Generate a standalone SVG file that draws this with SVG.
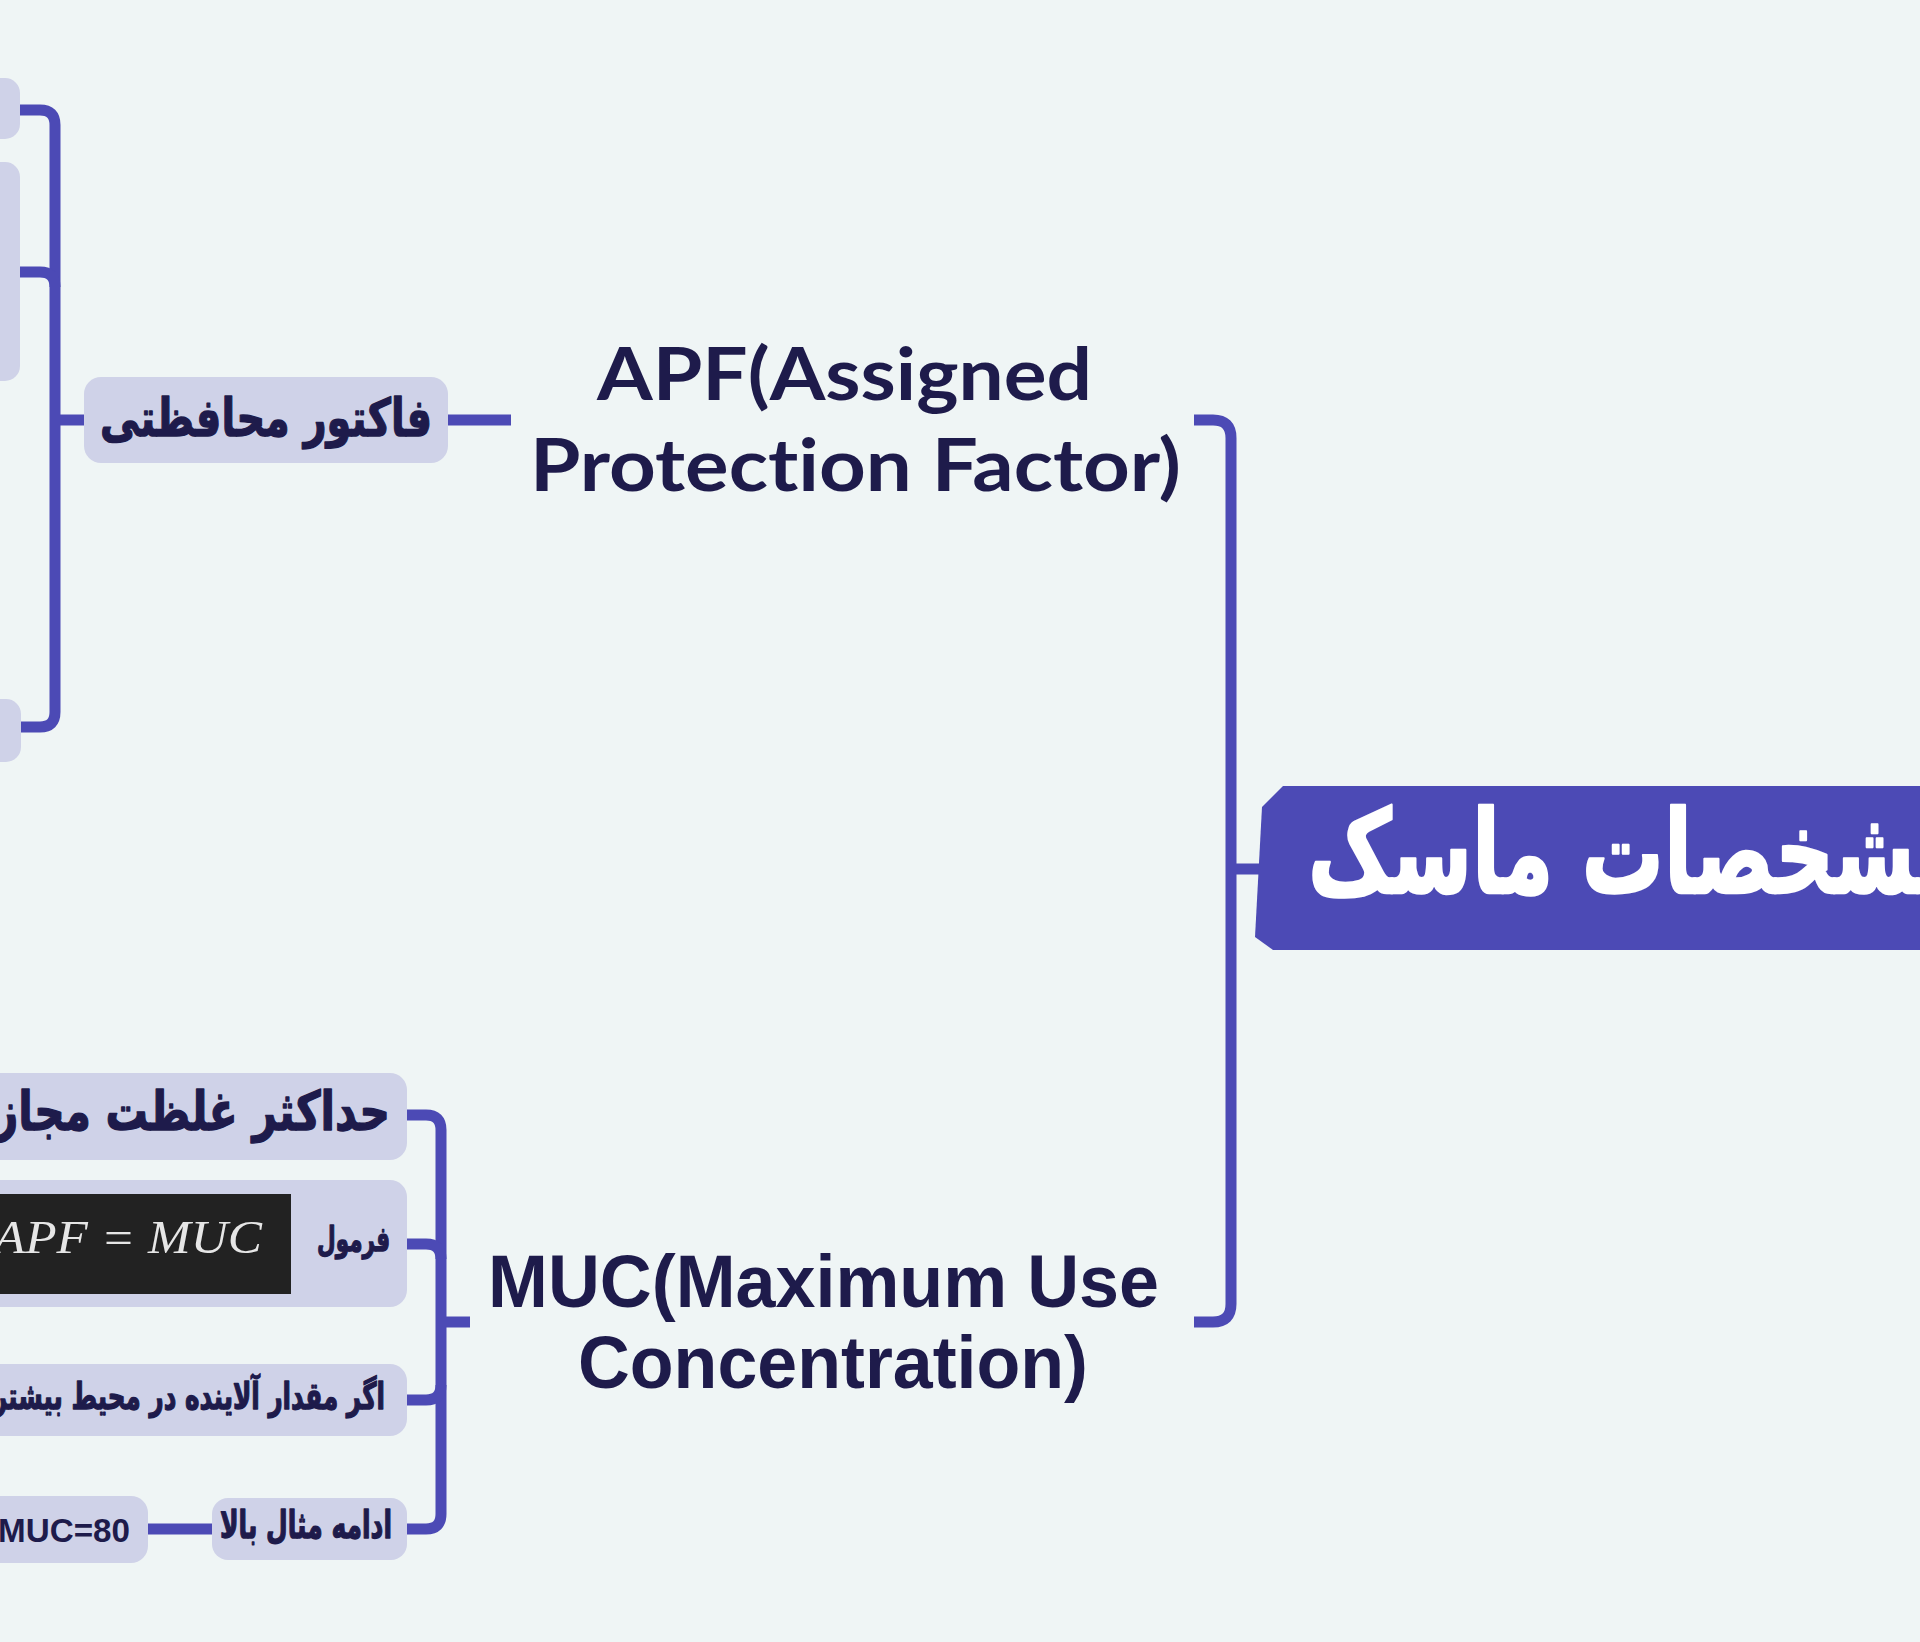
<svg xmlns="http://www.w3.org/2000/svg" width="1920" height="1642" viewBox="0 0 1920 1642">
<style>
.bg{fill:#EFF5F5}
.link{fill:none;stroke:#4C4AB5;stroke-width:11;stroke-linecap:butt}
.box{fill:#CFD2E8}
.fa{font-family:"DejaVu Sans",sans-serif;font-weight:bold;fill:#1E1B4B;stroke:#1E1B4B;stroke-width:1.4;stroke-linejoin:round}
.en{font-family:Lato,"Liberation Sans",sans-serif;font-weight:bold;fill:#1E1B4B;font-variant-ligatures:none}
.ar{font-family:"Liberation Sans",Arial,sans-serif;font-weight:bold;fill:#1E1B4B}
</style>
<rect class="bg" x="0" y="0" width="1920" height="1642"/>
<g id="connectors">
<path class="link" d="M1194,420 H1213 Q1231,420 1231,438 V1304 Q1231,1322 1213,1322 H1194"/>
<path class="link" d="M1231,869 H1264"/>
<path class="link" d="M448,420 H511"/>
<path class="link" d="M18,110 H40 Q55,110 55,125 V712 Q55,727 40,727 H18"/>
<path class="link" d="M18,272 H40 Q55,272 55,287"/>
<path class="link" d="M55,420 H86"/>
<path class="link" d="M405,1115 H426 Q441,1115 441,1130 V1514 Q441,1529 426,1529 H405"/>
<path class="link" d="M405,1244 H426 Q441,1244 441,1259"/>
<path class="link" d="M405,1400 H426 Q441,1400 441,1385"/>
<path class="link" d="M441,1322 H470"/>
<path class="link" d="M146,1529 H214"/>
</g>
<g id="root">
<polygon points="1283,786 1920,786 1920,950 1273,950 1255,937 1262,807" fill="#4C4AB5"/>
<text x="1308" y="893" font-size="116" textLength="660" lengthAdjust="spacingAndGlyphs" style="font-family:'DejaVu Sans',sans-serif;font-weight:bold;fill:#FFFFFF;stroke:#FFFFFF;stroke-width:2.5;stroke-linejoin:round">مشخصات ماسک</text>
</g>
<g id="apf">
<text class="en" x="597" y="400" font-size="72" textLength="495" lengthAdjust="spacingAndGlyphs">APF(Assigned</text>
<text class="en" x="530" y="491" font-size="72" textLength="651" lengthAdjust="spacingAndGlyphs">Protection Factor)</text>
</g>
<g id="muc">
<text class="ar" x="488" y="1307" font-size="75" textLength="671" lengthAdjust="spacingAndGlyphs">MUC(Maximum Use</text>
<text class="ar" x="578" y="1388" font-size="75" textLength="510" lengthAdjust="spacingAndGlyphs">Concentration)</text>
</g>
<g id="protection-factor">
<rect class="box" x="84" y="377" width="364" height="86" rx="17"/>
<text class="fa" x="432" y="436" font-size="52" text-anchor="end" textLength="332" lengthAdjust="spacingAndGlyphs">فاکتور محافظتی</text>
</g>
<g id="child-top">
<rect class="box" x="-30" y="78" width="50" height="61" rx="15"/>
</g>
<g id="child-middle">
<rect class="box" x="-30" y="162" width="50" height="219" rx="15"/>
</g>
<g id="child-bottom">
<rect class="box" x="-30" y="699" width="51" height="63" rx="15"/>
</g>
<g id="max-conc">
<rect class="box" x="-30" y="1073" width="437" height="87" rx="17"/>
<text class="fa" x="390" y="1130" font-size="54" text-anchor="end" textLength="396" lengthAdjust="spacingAndGlyphs">حداکثر غلظت مجاز</text>
</g>
<g id="formula">
<rect class="box" x="-30" y="1180" width="437" height="127" rx="17"/>
<rect x="-10" y="1194" width="301" height="100" fill="#222222"/>
<text x="-6" y="1253" font-size="46" textLength="268" lengthAdjust="spacingAndGlyphs" style="font-family:'Liberation Serif',serif;font-style:italic;fill:#E6E6E6">APF = MUC</text>
<text class="fa" x="390" y="1251" font-size="34" text-anchor="end" textLength="73" lengthAdjust="spacingAndGlyphs">فرمول</text>
</g>
<g id="if-more">
<rect class="box" x="-30" y="1364" width="437" height="72" rx="17"/>
<text class="fa" x="385" y="1409" font-size="37" text-anchor="end" textLength="392" lengthAdjust="spacingAndGlyphs">اگر مقدار آلاینده در محیط بیشتر</text>
</g>
<g id="example">
<rect class="box" x="212" y="1498" width="195" height="62" rx="16"/>
<text class="fa" x="392" y="1538" font-size="38" text-anchor="end" textLength="172" lengthAdjust="spacingAndGlyphs">ادامه مثال بالا</text>
</g>
<g id="muc80">
<rect class="box" x="-30" y="1496" width="178" height="67" rx="17"/>
<text class="ar" x="-2" y="1542" font-size="34" textLength="132" lengthAdjust="spacingAndGlyphs">MUC=80</text>
</g>
</svg>
